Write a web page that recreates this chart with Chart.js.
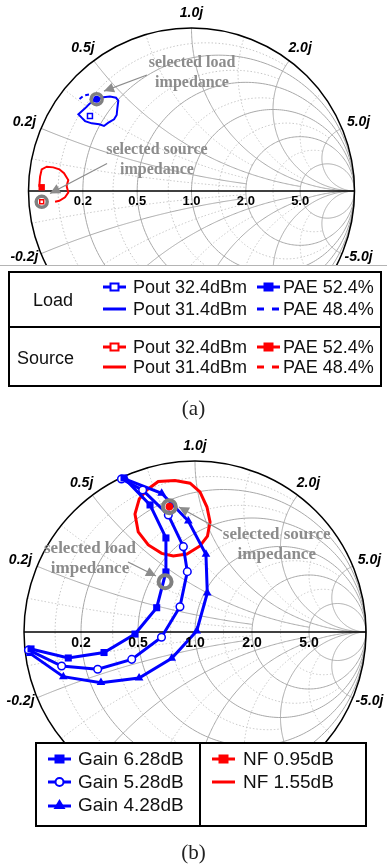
<!DOCTYPE html>
<html>
<head>
<meta charset="utf-8">
<script src="https://cdn.jsdelivr.net/npm/chart.js"></script>
<style>
  body { margin: 0; width: 387px; height: 865px; position: relative; background: #fff; overflow: hidden;
         font-family: "Liberation Sans", Arial, sans-serif; }
  canvas { position: absolute; left: 0; }
  .abs { position: absolute; }
  .box { position: absolute; border: 2px solid #000; box-sizing: border-box; }
  .bar { position: absolute; background: #000; }
  .txt { position: absolute; white-space: nowrap; color: #111; }
  .la { font-size: 18px; line-height: 20px; }
  .lb { font-size: 19px; line-height: 22px; }
  .cap { position: absolute; left: 0; width: 387px; text-align: center; font-family: "Liberation Serif", serif; font-size: 21px; line-height: 24px; color: #222; }
  svg { position: absolute; }
</style>
</head>
<body>
<canvas id="smithA" width="387" height="266" style="top:0px;width:387px;height:266px"></canvas>
<div class="abs" style="left:0;top:265px;width:387px;height:1px;background:#b4b4b4"></div>

<!-- legend (a) -->
<div class="box" style="left:8px;top:271px;width:374px;height:116px"></div>
<div class="bar" style="left:8px;top:326px;width:374px;height:2px"></div>
<div class="txt la" style="left:33px;top:290px">Load</div>
<div class="txt la" style="left:17px;top:348px">Source</div>

<svg style="left:103px;top:281px" width="23" height="12"><line x1="0" y1="6" x2="23" y2="6" stroke="#00f" stroke-width="3"/><rect x="7.5" y="2.5" width="8" height="7" fill="#fff" stroke="#00f" stroke-width="2"/></svg>
<div class="txt la" style="left:133px;top:277px">Pout 32.4dBm</div>
<svg style="left:257px;top:281px" width="23" height="12"><line x1="0" y1="6" x2="23" y2="6" stroke="#00f" stroke-width="3"/><rect x="6.5" y="1.5" width="10" height="9" fill="#00f"/></svg>
<div class="txt la" style="left:283px;top:277px">PAE 52.4%</div>
<svg style="left:103px;top:303px" width="23" height="12"><line x1="0" y1="6" x2="23" y2="6" stroke="#00f" stroke-width="3"/></svg>
<div class="txt la" style="left:133px;top:299px">Pout 31.4dBm</div>
<svg style="left:257px;top:303px" width="23" height="12"><line x1="0" y1="6" x2="23" y2="6" stroke="#00f" stroke-width="3" stroke-dasharray="7 8"/></svg>
<div class="txt la" style="left:283px;top:299px">PAE 48.4%</div>

<svg style="left:103px;top:341px" width="23" height="12"><line x1="0" y1="6" x2="23" y2="6" stroke="#f00" stroke-width="3"/><rect x="7.5" y="2.5" width="8" height="7" fill="#fff" stroke="#f00" stroke-width="2"/></svg>
<div class="txt la" style="left:133px;top:337px">Pout 32.4dBm</div>
<svg style="left:257px;top:341px" width="23" height="12"><line x1="0" y1="6" x2="23" y2="6" stroke="#f00" stroke-width="3"/><rect x="6.5" y="1.5" width="10" height="9" fill="#f00"/></svg>
<div class="txt la" style="left:283px;top:337px">PAE 52.4%</div>
<svg style="left:103px;top:361px" width="23" height="12"><line x1="0" y1="6" x2="23" y2="6" stroke="#f00" stroke-width="3"/></svg>
<div class="txt la" style="left:133px;top:357px">Pout 31.4dBm</div>
<svg style="left:257px;top:361px" width="23" height="12"><line x1="0" y1="6" x2="23" y2="6" stroke="#f00" stroke-width="3" stroke-dasharray="7 8"/></svg>
<div class="txt la" style="left:283px;top:357px">PAE 48.4%</div>

<div class="cap" style="top:396px">(a)</div>

<canvas id="smithB" width="387" height="312" style="top:430px;width:387px;height:312px"></canvas>

<!-- legend (b) -->
<div class="box" style="left:35px;top:742px;width:332px;height:85px"></div>
<div class="bar" style="left:199px;top:742px;width:2px;height:85px"></div>
<svg style="left:48px;top:753px" width="23" height="12"><line x1="0" y1="6" x2="23" y2="6" stroke="#00f" stroke-width="3"/><rect x="6.5" y="1.5" width="10" height="9" fill="#00f"/></svg>
<div class="txt lb" style="left:78px;top:748px">Gain 6.28dB</div>
<svg style="left:48px;top:776px" width="23" height="12"><line x1="0" y1="6" x2="23" y2="6" stroke="#00f" stroke-width="3"/><circle cx="11.5" cy="6" r="4" fill="#fff" stroke="#00f" stroke-width="2"/></svg>
<div class="txt lb" style="left:78px;top:771px">Gain 5.28dB</div>
<svg style="left:48px;top:799px" width="23" height="12"><line x1="0" y1="7" x2="23" y2="7" stroke="#00f" stroke-width="3"/><polygon points="11.5,0 17.5,10 5.5,10" fill="#00f"/></svg>
<div class="txt lb" style="left:78px;top:794px">Gain 4.28dB</div>
<svg style="left:212px;top:753px" width="23" height="12"><line x1="0" y1="6" x2="23" y2="6" stroke="#f00" stroke-width="3"/><rect x="6.5" y="1.5" width="10" height="9" fill="#f00"/></svg>
<div class="txt lb" style="left:243px;top:748px">NF 0.95dB</div>
<svg style="left:212px;top:776px" width="23" height="12"><line x1="0" y1="6" x2="23" y2="6" stroke="#f00" stroke-width="3"/></svg>
<div class="txt lb" style="left:243px;top:771px">NF 1.55dB</div>

<div class="cap" style="top:840px">(b)</div>

<script>
// ---- Smith chart grid values (normalized impedance) ----
const majorR = [0.2, 0.5, 1, 2, 5];
const majorX = [0.2, 0.5, 1, 2, 5];
const majorXReach = [2, 5, Infinity, Infinity, Infinity];
const minorR = [0.1, 0.35, 0.75, 1.4, 3];
const minorX = [0.1, 0.35, 0.75, 1.4, 3];

// tick labels
const realTicks = [0.2, 0.5, 1, 2, 5];
const realLabels = ["0.2", "0.5", "1.0", "2.0", "5.0"];
const imagTicks = [0.2, 0.5, 1, 2, 5, -0.2, -5];
const imagLabels = ["0.2j", "0.5j", "1.0j", "2.0j", "5.0j", "-0.2j", "-5.0j"];

// ---- (a) load / source pull, points as [Re Γ, Im Γ] ----
const loadPout314 = [[-0.602,0.554],[-0.627,0.534],[-0.653,0.507],[-0.680,0.483],[-0.694,0.471],[-0.674,0.450],
  [-0.653,0.429],[-0.612,0.415],[-0.566,0.409],[-0.537,0.399],[-0.510,0.419],[-0.475,0.440],[-0.459,0.466],
  [-0.455,0.507],[-0.449,0.554],[-0.463,0.572],[-0.500,0.579],[-0.541,0.575],[-0.602,0.554]];
const loadPae484 = [[-0.687,0.564],[-0.660,0.586],[-0.629,0.592]];
const loadPout324 = [[-0.623,0.460]];
const loadPae524 = [[-0.582,0.563]];
const loadSelected = [[-0.582,0.563]];

const sourcePout314 = [[-0.837,-0.066],[-0.811,-0.060],[-0.776,-0.039],[-0.756,-0.010],[-0.766,0.031],[-0.756,0.067],
  [-0.782,0.109],[-0.811,0.133],[-0.848,0.145],[-0.888,0.149],[-0.919,0.133],[-0.929,0.088],[-0.934,0.026]];
const sourcePae524 = [[-0.919,0.023]];
const sourcePout324 = [[-0.919,-0.066]];
const sourceSelected = [[-0.919,-0.066]];

// ---- (b) gain / noise circles ----
const gain628 = [[-0.415,0.901],[-0.263,0.743],[-0.170,0.550],[-0.170,0.351],[-0.224,0.142],[-0.351,-0.012],
  [-0.532,-0.120],[-0.741,-0.152],[-0.959,-0.099]];
const gain528 = [[-0.430,0.895],[-0.306,0.830],[-0.156,0.684],[-0.068,0.499],[-0.045,0.353],[-0.088,0.148],
  [-0.196,-0.031],[-0.370,-0.160],[-0.569,-0.218],[-0.780,-0.199],[-0.974,-0.105]];
const gain428 = [[-0.404,0.893],[-0.195,0.811],[-0.039,0.649],[0.064,0.454],[0.072,0.228],[0.010,0.006],
  [-0.136,-0.154],[-0.327,-0.269],[-0.550,-0.296],[-0.770,-0.261],[-0.965,-0.125]];
const nf155 = [[-0.282,0.830],[-0.215,0.880],[-0.117,0.886],[-0.029,0.870],[0.029,0.819],[0.070,0.731],[0.088,0.643],
  [0.073,0.561],[0.029,0.503],[-0.047,0.456],[-0.127,0.444],[-0.195,0.460],[-0.273,0.509],[-0.332,0.585],
  [-0.351,0.690],[-0.326,0.778],[-0.282,0.830]];
const nf095 = [[-0.150,0.733]];
const sourceSelectedB = [[-0.150,0.733]];
const loadSelectedB = [[-0.175,0.294]];

// annotations: text anchor and arrow from -> tip, in Γ plane
const notesA = [
  { lines: ["selected load", "impedance"], at: [0.003, 0.724], from: [-0.273, 0.712], to: [-0.537, 0.613] },
  { lines: ["selected source", "impedance"], at: [-0.212, 0.193], from: [-0.518, 0.169], to: [-0.868, -0.015] }
];
const notesB = [
  { lines: ["selected source", "impedance"], at: [0.478, 0.509], from: [0.158, 0.591], to: [-0.094, 0.731] },
  { lines: ["selected load", "impedance"], at: [-0.614, 0.427], from: [-0.392, 0.409], to: [-0.228, 0.327] }
];

const pts = arr => arr.map(p => ({ x: p[0], y: p[1] }));

function gam(r, x) {
  const d = (r + 1) * (r + 1) + x * x;
  return [(r * r - 1 + x * x) / d, 2 * x / d];
}

function polyline(ctx, sx, sy, fn, n) {
  ctx.beginPath();
  for (let i = 0; i <= n; i++) {
    const g = fn(i / n);
    const px = sx.getPixelForValue(g[0]), py = sy.getPixelForValue(g[1]);
    if (i) ctx.lineTo(px, py); else ctx.moveTo(px, py);
  }
  ctx.stroke();
}

function rCircle(ctx, sx, sy, r, xmax) {
  const c = r / (1 + r), a = 1 / (1 + r);
  let phi = 0;
  if (xmax < Infinity) { const g = gam(r, xmax); phi = Math.atan2(g[1], g[0] - c); }
  polyline(ctx, sx, sy, t => {
    const ang = phi + (2 * Math.PI - 2 * phi) * t;
    return [c + a * Math.cos(ang), a * Math.sin(ang)];
  }, 240);
}

function xArc(ctx, sx, sy, x, rmax) {
  const cy = 1 / x, a = Math.abs(1 / x);
  const g0 = gam(0, x), g1 = rmax < Infinity ? gam(rmax, x) : [1, 0];
  const a0 = Math.atan2(g0[1] - cy, g0[0] - 1);
  let d = Math.atan2(g1[1] - cy, g1[0] - 1) - a0;
  while (d > Math.PI) d -= 2 * Math.PI;
  while (d < -Math.PI) d += 2 * Math.PI;
  polyline(ctx, sx, sy, t => [1 + a * Math.cos(a0 + d * t), cy + a * Math.sin(a0 + d * t)], 200);
}

const smithGrid = {
  id: "smithGrid",
  beforeDatasetsDraw(chart) {
    const { ctx, chartArea, scales: { x: sx, y: sy } } = chart;
    ctx.save();
    ctx.beginPath();
    ctx.rect(chartArea.left, chartArea.top, chartArea.width, chartArea.height);
    ctx.clip();
    ctx.lineWidth = 1;
    ctx.strokeStyle = "#c6c6c6";
    ctx.setLineDash([1.5, 2]);
    minorR.forEach(r => rCircle(ctx, sx, sy, r, r < 1 ? 2 : 5));
    minorX.forEach(x => {
      xArc(ctx, sx, sy, x, x < 1 ? 2 : 5);
      xArc(ctx, sx, sy, -x, x < 1 ? 2 : 5);
    });
    ctx.setLineDash([]);
    ctx.strokeStyle = "#a8a8a8";
    majorR.forEach(r => rCircle(ctx, sx, sy, r, Infinity));
    majorX.forEach((x, i) => {
      xArc(ctx, sx, sy, x, majorXReach[i]);
      xArc(ctx, sx, sy, -x, majorXReach[i]);
    });
    ctx.strokeStyle = "#000";
    ctx.lineWidth = 1.5;
    const cx = sx.getPixelForValue(0), cy = sy.getPixelForValue(0);
    const R = sx.getPixelForValue(1) - cx;
    ctx.beginPath(); ctx.arc(cx, cy, R, 0, 2 * Math.PI); ctx.stroke();
    ctx.beginPath(); ctx.moveTo(cx - R, cy); ctx.lineTo(cx + R, cy); ctx.stroke();
    ctx.restore();
  },
  afterDraw(chart, args, opts) {
    const { ctx, scales: { x: sx, y: sy } } = chart;
    const cx = sx.getPixelForValue(0), cy = sy.getPixelForValue(0);
    const R = sx.getPixelForValue(1) - cx;
    ctx.save();
    ctx.fillStyle = "#000";
    ctx.textAlign = "center";
    ctx.textBaseline = "middle";
    ctx.font = "bold " + opts.realSize + "px 'Liberation Sans', Arial, sans-serif";
    realTicks.forEach((r, i) => {
      ctx.fillText(realLabels[i], sx.getPixelForValue((r - 1) / (r + 1)), cy + opts.realGap);
    });
    ctx.font = "italic bold 14px 'Liberation Sans', Arial, sans-serif";
    imagTicks.forEach((x, i) => {
      const g = gam(0, x);
      const dy = x > 0 ? 15 : 9;
      ctx.fillText(imagLabels[i], cx + (R + 18) * g[0], cy - (R + dy) * g[1]);
    });
    // annotations
    ctx.strokeStyle = "#8c8c8c";
    ctx.fillStyle = "#8c8c8c";
    ctx.lineWidth = 1.2;
    opts.notes.forEach(n => {
      const x0 = sx.getPixelForValue(n.from[0]), y0 = sy.getPixelForValue(n.from[1]);
      const x1 = sx.getPixelForValue(n.to[0]), y1 = sy.getPixelForValue(n.to[1]);
      const ang = Math.atan2(y1 - y0, x1 - x0);
      ctx.beginPath(); ctx.moveTo(x0, y0); ctx.lineTo(x1, y1); ctx.stroke();
      ctx.beginPath();
      ctx.moveTo(x1, y1);
      ctx.lineTo(x1 - 10 * Math.cos(ang) + 5 * Math.sin(ang), y1 - 10 * Math.sin(ang) - 5 * Math.cos(ang));
      ctx.lineTo(x1 - 10 * Math.cos(ang) - 5 * Math.sin(ang), y1 - 10 * Math.sin(ang) + 5 * Math.cos(ang));
      ctx.closePath(); ctx.fill();
      ctx.font = "bold " + opts.noteSize + "px 'Liberation Serif', 'Times New Roman', serif";
      const tx = sx.getPixelForValue(n.at[0]), ty = sy.getPixelForValue(n.at[1]);
      ctx.fillText(n.lines[0], tx, ty - 10);
      ctx.fillText(n.lines[1], tx, ty + 10);
    });
    ctx.restore();
  }
};

function ring(data, radius, width) {
  return { data: pts(data), showLine: false, pointStyle: "circle", pointRadius: radius, borderWidth: width,
           pointBorderColor: "#808080", pointBackgroundColor: "rgba(0,0,0,0)", order: 2 };
}

function smith(id, datasets, view, pluginOpts) {
  return new Chart(document.getElementById(id), {
    type: "scatter",
    data: { datasets },
    options: {
      responsive: false,
      animation: false,
      events: [],
      layout: { padding: 0, autoPadding: false },
      scales: {
        x: { type: "linear", min: view[0], max: view[1], display: false, bounds: "data" },
        y: { type: "linear", min: view[2], max: view[3], display: false, bounds: "data" }
      },
      plugins: { legend: { display: false }, tooltip: { enabled: false }, smithGrid: pluginOpts }
    },
    plugins: [smithGrid]
  });
}

const BLUE = "#0000ff", RED = "#ff0000";

// (a): centre (191.5,191), R = 163 px
smith("smithA", [
  { data: pts(loadPae484), showLine: true, borderColor: BLUE, borderWidth: 2, borderDash: [4, 3], pointRadius: 0, order: 5 },
  { data: pts(loadPout314), showLine: true, borderColor: BLUE, borderWidth: 2, pointRadius: 0, order: 5 },
  { data: pts(loadPout324), showLine: false, pointStyle: "rect", pointRadius: 3.5, borderWidth: 1.5,
    pointBorderColor: BLUE, pointBackgroundColor: "#fff", order: 4 },
  ring(loadSelected, 5.5, 3.5),
  { data: pts(loadPae524), showLine: false, pointStyle: "circle", pointRadius: 3.5, borderWidth: 0,
    pointBackgroundColor: BLUE, pointBorderColor: BLUE, order: 1 },
  { data: pts(sourcePout314), showLine: true, borderColor: RED, borderWidth: 2, pointRadius: 0, order: 5 },
  { data: pts(sourcePae524), showLine: false, pointStyle: "rect", pointRadius: 4.5, borderWidth: 0,
    pointBackgroundColor: RED, pointBorderColor: RED, order: 1 },
  ring(sourceSelected, 5.5, 3.5),
  { data: pts(sourcePout324), showLine: false, pointStyle: "rect", pointRadius: 2.8, borderWidth: 1.5,
    pointBorderColor: RED, pointBackgroundColor: "#fff", order: 1 }
], [-191.5 / 163, 195.5 / 163, -75 / 163, 191 / 163],
   { notes: notesA, realSize: 13, realGap: 10, noteSize: 16 });

// (b): centre (195,632) on page -> (195,202) in canvas, R = 171 px
smith("smithB", [
  { data: pts(gain628), showLine: true, borderColor: BLUE, borderWidth: 3, pointStyle: "rect", pointRadius: 5,
    pointBorderWidth: 0, pointBackgroundColor: BLUE, pointBorderColor: BLUE, order: 6 },
  { data: pts(gain528), showLine: true, borderColor: BLUE, borderWidth: 3, pointStyle: "circle", pointRadius: 3.8,
    pointBorderWidth: 1.5, pointBackgroundColor: "#fff", pointBorderColor: BLUE, order: 6 },
  { data: pts(gain428), showLine: true, borderColor: BLUE, borderWidth: 3, pointStyle: "triangle", pointRadius: 5,
    pointBorderWidth: 0, pointBackgroundColor: BLUE, pointBorderColor: BLUE, order: 6 },
  { data: pts(nf155), showLine: true, borderColor: RED, borderWidth: 3, pointRadius: 0, order: 7 },
  ring(sourceSelectedB, 6.5, 4),
  ring(loadSelectedB, 6.5, 4),
  { data: pts(nf095), showLine: false, pointStyle: "circle", pointRadius: 3.8, borderWidth: 0,
    pointBackgroundColor: RED, pointBorderColor: RED, order: 1 }
], [-195 / 171, 192 / 171, -110 / 171, 202 / 171],
   { notes: notesB, realSize: 14, realGap: 11, noteSize: 17 });
</script>
</body>
</html>
